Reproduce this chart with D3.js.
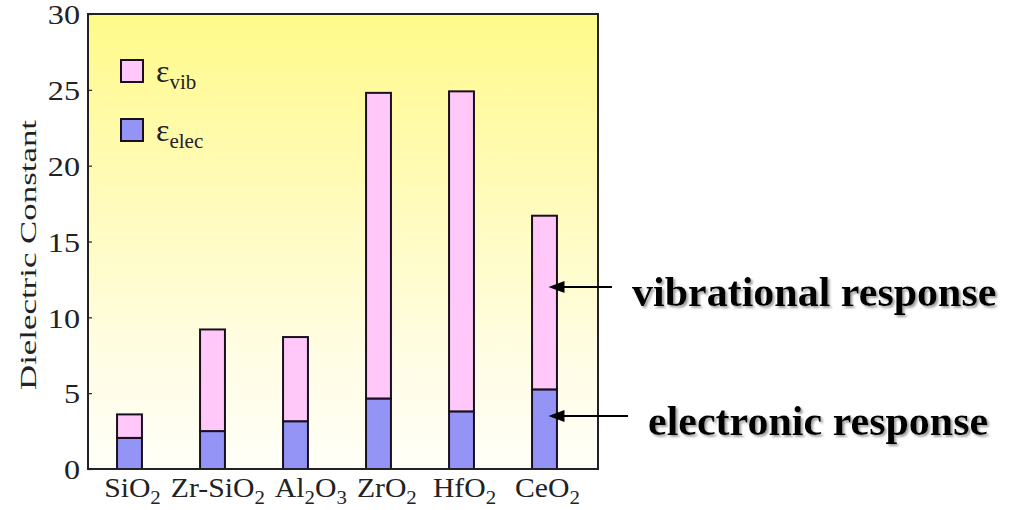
<!DOCTYPE html>
<html><head><meta charset="utf-8">
<script src="https://cdn.jsdelivr.net/npm/d3@7/dist/d3.min.js"></script>
<style>
html,body{margin:0;padding:0;background:#fff;}
svg{display:block;}
svg text{font-family:"Liberation Serif","Times New Roman",Times,serif;}
</style></head>
<body>
<svg id="chart" width="1023" height="510"></svg>
<script>
// ---- data ----
const materials = ["SiO2", "Zr-SiO2", "Al2O3", "ZrO2", "HfO2", "CeO2"];
// label parts: [text, isSubscript]
const materialLabels = [
  [["SiO",0],["2",1]],
  [["Zr-SiO",0],["2",1]],
  [["Al",0],["2",1],["O",0],["3",1]],
  [["ZrO",0],["2",1]],
  [["HfO",0],["2",1]],
  [["CeO",0],["2",1]]
];
const elecValues  = [2.05, 2.5, 3.15, 4.65, 3.8, 5.25];
const totalValues = [3.6, 9.2, 8.7, 24.8, 24.9, 16.7];
const vibValues   = totalValues.map((t,i)=> +(t - elecValues[i]).toFixed(2));
const yTicks = [0, 5, 10, 15, 20, 25, 30];
const yLabel = "Dielectric Constant";
const annotations = [
  {text: "vibrational response", target: "CeO2", value: 12.0},
  {text: "electronic response",  target: "CeO2", value: 3.5}
];

// ---- layout ----
const FONT = "'Liberation Serif','Times New Roman',Times,serif";
const svg = d3.select("#chart");
const plot = {left: 88, right: 598, top: 14, bottom: 469};
const colors = {vib: "#FFC8F8", elec: "#9494F6"};

const x = d3.scaleBand().domain(materials)
  .range([plot.left, plot.left + 498]).paddingInner(0.7).paddingOuter(0.35);
const y = d3.scaleLinear().domain([0, 30]).range([plot.bottom, plot.top]);

// background gradient
const defs = svg.append("defs");
const grad = defs.append("linearGradient").attr("id","bg").attr("x1",0).attr("y1",0).attr("x2",0).attr("y2",1);
grad.append("stop").attr("offset","0%").attr("stop-color","#FFFA8A");
grad.append("stop").attr("offset","35%").attr("stop-color","#FFFBB4");
grad.append("stop").attr("offset","75%").attr("stop-color","#FFFDE4");
grad.append("stop").attr("offset","100%").attr("stop-color","#FFFFF8");
const shadow = defs.append("filter").attr("id","shadow").attr("x","-5%").attr("y","-20%").attr("width","115%").attr("height","150%");
shadow.append("feDropShadow").attr("dx",2).attr("dy",2).attr("stdDeviation",1)
  .attr("flood-color","#888").attr("flood-opacity",0.8);

svg.append("rect").attr("x",plot.left).attr("y",plot.top)
  .attr("width",plot.right-plot.left).attr("height",plot.bottom-plot.top)
  .attr("fill","url(#bg)");

// bars
const stackData = materials.map((m,i)=>({m, elec: elecValues[i], vib: vibValues[i]}));
const stack = d3.stack().keys(["elec","vib"])(stackData);
const barG = svg.append("g");
stack.forEach(layer=>{
  barG.selectAll(null).data(layer).join("rect")
    .attr("x", d=>x(d.data.m))
    .attr("width", x.bandwidth())
    .attr("y", d=>y(d[1]))
    .attr("height", d=>y(d[0])-y(d[1]))
    .attr("fill", colors[layer.key])
    .attr("stroke","#1a0f1f").attr("stroke-width",2);
});

// frame
svg.append("rect").attr("x",plot.left).attr("y",plot.top)
  .attr("width",plot.right-plot.left).attr("height",plot.bottom-plot.top)
  .attr("fill","none").attr("stroke","#222").attr("stroke-width",2);

// y axis
const yAxis = d3.axisLeft(y).tickValues(yTicks).tickSizeInner(-4).tickSizeOuter(0).tickPadding(0);
const yg = svg.append("g").attr("transform",`translate(${plot.left},0)`).call(yAxis)
  .attr("font-family", FONT);
yg.select(".domain").remove();
yg.selectAll(".tick line").attr("stroke","#222").attr("stroke-width",1.2);
yg.selectAll(".tick text")
  .attr("font-family", FONT).attr("font-size",28).attr("fill","#222")
  .attr("x",0).attr("dy","0.35em")
  .attr("transform","translate(-8,0) scale(1.15,1)");

// y label
svg.append("text")
  .attr("transform","translate(36,255) rotate(-90)")
  .attr("text-anchor","middle")
  .attr("font-family", FONT)
  .attr("font-size",24).attr("fill","#222")
  .attr("textLength",270).attr("lengthAdjust","spacingAndGlyphs")
  .text(yLabel);

// x labels (centred under bars, pushed right if they would collide)
const xg = svg.append("g");
const SX = 1.1, GAP = 10;
let prevRight = -Infinity;
materials.forEach((m,i)=>{
  const t = xg.append("text")
    .attr("x", 0).attr("y", 0)
    .attr("text-anchor","middle")
    .attr("font-family", FONT)
    .attr("font-size",27).attr("fill","#222");
  materialLabels[i].forEach(([s,sub],j)=>{
    const ts = t.append("tspan").text(s);
    if(sub) ts.attr("font-size",19).attr("dy",7);
    else if(j>0) ts.attr("dy",-7);
  });
  const w = t.node().getBBox().width * SX;
  let cx = x(m) + x.bandwidth()/2 + 3;
  if (cx - w/2 < prevRight + GAP) cx = prevRight + GAP + w/2;
  prevRight = cx + w/2;
  t.attr("transform",`translate(${cx},497) scale(${SX},1)`);
});

// legend
const leg = svg.append("g");
const legItems = [{k:"vib", y:71, sub:"vib"},{k:"elec", y:130, sub:"elec"}];
legItems.forEach(it=>{
  leg.append("rect").attr("x",121).attr("y",it.y-11).attr("width",22).attr("height",22)
    .attr("fill",colors[it.k]).attr("stroke","#1a0f1f").attr("stroke-width",2);
  const t = leg.append("text").attr("x",156).attr("y",it.y+11)
    .attr("font-family", FONT).attr("font-size",32).attr("fill","#222");
  t.append("tspan").text("ε");
  t.append("tspan").text(it.sub).attr("font-size",21).attr("dy",7);
});

// annotations
const ceX = x("CeO2") + x.bandwidth()/2 + 4;
const arrowG = svg.append("g");
annotations.forEach((a,i)=>{
  const yy = y(a.value);
  const tailX = i===0 ? 612 : 628;
  arrowG.append("line").attr("x1",tailX).attr("x2",ceX+14).attr("y1",yy).attr("y2",yy)
    .attr("stroke","#000").attr("stroke-width",2);
  arrowG.append("path")
    .attr("d",`M${ceX},${yy} L${ceX+16},${yy-6} L${ceX+16},${yy+6} Z`)
    .attr("fill","#000");
  arrowG.append("text")
    .attr("x", i===0 ? 632 : 648).attr("y", yy + 19)
    .attr("font-family", FONT)
    .attr("font-size",42).attr("font-weight","bold").attr("fill","#000")
    .attr("filter","url(#shadow)")
    .text(a.text);
});
</script>
</body></html>
